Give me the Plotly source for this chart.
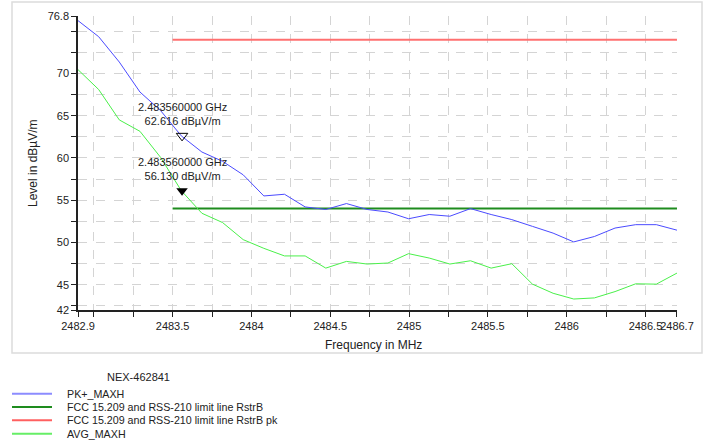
import plotly.graph_objects as go

freq_mhz = [2482.900, 2483.031, 2483.162, 2483.293, 2483.424, 2483.555, 2483.686,
            2483.817, 2483.948, 2484.079, 2484.210, 2484.341, 2484.472, 2484.603,
            2484.734, 2484.866, 2484.997, 2485.128, 2485.259, 2485.390, 2485.521,
            2485.652, 2485.783, 2485.914, 2486.045, 2486.176, 2486.307, 2486.438,
            2486.569, 2486.700]
pk_maxh = [76.25, 74.35, 71.35, 67.8, 65.6, 62.616, 60.7, 59.6, 58.0, 55.5,
           55.7, 54.2, 53.9, 54.6, 53.9, 53.6, 52.8, 53.3, 53.1, 54.0,
           53.3, 52.7, 51.9, 51.1, 50.06, 50.7, 51.7, 52.1, 52.1, 51.45]
avg_maxh = [70.45, 68.1, 64.5, 63.15, 60.06, 56.13, 53.45, 52.35, 50.33, 49.3,
            48.4, 48.4, 46.96, 47.75, 47.44, 47.56, 48.67, 48.15, 47.44, 47.83,
            46.96, 47.48, 45.06, 43.98, 43.3, 43.43, 44.18, 45.1, 45.06, 46.37]
limit_freq = [2483.5, 2486.7]
limit_avg = [54, 54]
limit_pk = [74, 74]

marker_freq = 2483.56
marker_pk = 62.616
marker_avg = 56.130

x_tickvals = [2482.9, 2483.5, 2484, 2484.5, 2485, 2485.5, 2486, 2486.5, 2486.7]
x_ticktext = ["2482.9", "2483.5", "2484", "2484.5", "2485", "2485.5", "2486", "2486.5", "2486.7"]
x_minor = [2483.0, 2483.25, 2483.5, 2483.75, 2484.0, 2484.25, 2484.5, 2484.75, 2485.0,
           2485.25, 2485.5, 2485.75, 2486.0, 2486.25, 2486.5, 2486.7]
y_tickvals = [42, 45, 50, 55, 60, 65, 70, 76.8]
y_ticktext = ["42", "45", "50", "55", "60", "65", "70", "76.8"]
y_minor = [42.5, 45, 47.5, 50, 52.5, 55, 57.5, 60, 62.5, 65, 67.5, 70, 72.5, 75, 76.8]

legend_names = ["PK+_MAXH", "FCC 15.209 and RSS-210 limit line RstrB",
                "FCC 15.209 and RSS-210 limit line RstrB pk", "AVG_MAXH"]
legend_colors = ["#8c8cff", "#1e8c1e", "#ff6060", "#66ee66"]

C_PK = "#4b4bff"
C_LIM = "#1e8c1e"
C_LIMPK = "#ff7070"
C_AVG = "#4af04a"
FONT = "Liberation Sans, Arial, sans-serif"

fig = go.Figure()
fig.add_trace(go.Scatter(x=limit_freq, y=limit_pk, mode="lines",
                         line=dict(color=C_LIMPK, width=2), name=legend_names[2]))
fig.add_trace(go.Scatter(x=limit_freq, y=limit_avg, mode="lines",
                         line=dict(color=C_LIM, width=2), name=legend_names[1]))
fig.add_trace(go.Scatter(x=freq_mhz, y=avg_maxh, mode="lines",
                         line=dict(color=C_AVG, width=1), name=legend_names[3]))
fig.add_trace(go.Scatter(x=freq_mhz, y=pk_maxh, mode="lines",
                         line=dict(color=C_PK, width=1), name=legend_names[0]))
fig.add_trace(go.Scatter(x=[marker_freq], y=[marker_pk], mode="markers",
                         marker=dict(symbol="triangle-down-open", size=10,
                                     color="black", line=dict(width=1, color="black"))))
fig.add_trace(go.Scatter(x=[marker_freq], y=[marker_avg], mode="markers",
                         marker=dict(symbol="triangle-down", size=10, color="black")))

for yv in (marker_pk, marker_avg):
    fig.add_annotation(x=marker_freq, y=yv, xref="x", yref="y",
                       text=f"{marker_freq/1000:.9f} GHz<br>{yv:.3f} dBµV/m",
                       showarrow=False, yanchor="bottom", yshift=7,
                       font=dict(family=FONT, size=11, color="#222"))

# layout geometry helpers (pixels -> paper)
L, R, T, B = 78, 26, 16, 137
W, H = 703, 447
pw, ph = W - L - R, H - T - B


def px(xp):
    return (xp - L) / pw


def py(yp):
    return (H - B - yp) / ph


shapes = [dict(type="rect", xref="paper", yref="paper",
               x0=px(12), x1=px(702), y0=py(353), y1=py(2),
               line=dict(color="#dcdcdc", width=1.5), layer="below")]
leg_y = [393.7, 407, 420.3, 433.7]
for i, name in enumerate(legend_names):
    shapes.append(dict(type="line", xref="paper", yref="paper",
                       x0=px(12), x1=px(52), y0=py(leg_y[i]), y1=py(leg_y[i]),
                       line=dict(color=legend_colors[i], width=2)))
    fig.add_annotation(xref="paper", yref="paper", x=px(65), y=py(leg_y[i]),
                       text=name, showarrow=False, xanchor="left", yanchor="middle",
                       font=dict(family=FONT, size=10.7, color="#222"))
fig.add_annotation(xref="paper", yref="paper", x=px(138), y=py(377),
                   text="NEX-462841", showarrow=False, xanchor="center", yanchor="middle",
                   font=dict(family=FONT, size=11, color="#222"))
fig.add_annotation(xref="paper", yref="paper", x=px(373), y=py(345),
                   text="Frequency in MHz", showarrow=False, xanchor="center", yanchor="middle",
                   font=dict(family=FONT, size=12, color="#222"))
fig.add_annotation(xref="paper", yref="paper", x=px(33), y=py(163),
                   text="Level in dBµV/m", showarrow=False, textangle=-90,
                   xanchor="center", yanchor="middle",
                   font=dict(family=FONT, size=12, color="#222"))

grid = dict(showgrid=True, gridcolor="#d4d4d4", griddash="dash", gridwidth=1)
eps = 1e-4

fig.update_layout(
    width=W, height=H,
    margin=dict(l=L, r=R, t=T, b=B, autoexpand=False),
    paper_bgcolor="white", plot_bgcolor="white",
    showlegend=False,
    shapes=shapes,
    font=dict(family=FONT, size=11, color="#222"),
    xaxis=dict(range=[2482.9 - eps, 2486.7 + eps], tickmode="array", tickvals=x_tickvals,
               ticktext=x_ticktext, showgrid=False, zeroline=False, automargin=False,
               tickangle=0,
               showline=True, linecolor="#222", linewidth=1.5,
               ticks="outside", ticklen=5, tickcolor="#222",
               tickfont=dict(family=FONT, size=11, color="#222"),
               minor=dict(tickvals=x_minor, ticks="outside", ticklen=5,
                          tickcolor="#222", **grid)),
    yaxis=dict(range=[42 - eps, 76.8 + eps], tickmode="array", tickvals=y_tickvals,
               ticktext=y_ticktext, showgrid=False, zeroline=False, automargin=False,
               showline=True, linecolor="#222", linewidth=1.5,
               ticks="outside", ticklen=5, tickcolor="#222",
               tickfont=dict(family=FONT, size=11, color="#222"),
               minor=dict(tickvals=y_minor, ticks="outside", ticklen=5,
                          tickcolor="#222", **grid)),
)

fig.write_html("out.html", config={"displayModeBar": False},
               post_script="document.body.style.margin='0';"
                           "document.body.style.overflow='hidden';")
